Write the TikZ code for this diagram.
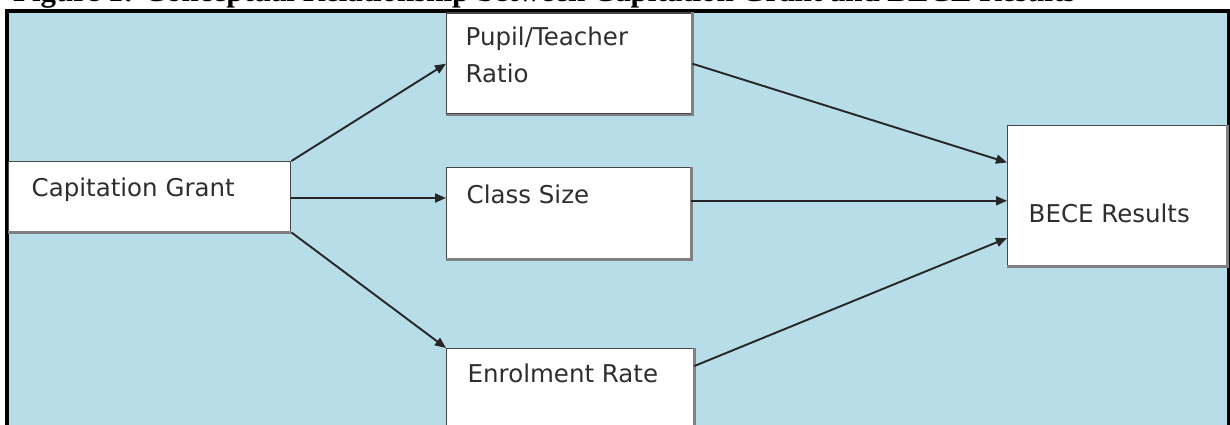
\documentclass[tikz,border=0pt]{standalone}
\usepackage{fontspec}
\usepackage{graphicx}
\setmainfont{Liberation Serif}
\newfontfamily\boxfont{DejaVu Sans}
\usetikzlibrary{arrows.meta,calc}
\definecolor{bgblue}{HTML}{B7DDE8}
\definecolor{txtgray}{HTML}{2E2E2E}
\tikzset{
  boxnode/.style={draw=black!72, line width=1.4pt, fill=white, rectangle, inner sep=0pt, anchor=north west},
  boxtext/.style={anchor=base west, inner sep=0pt, text=txtgray, font=\boxfont\fontsize{24.5}{30}\selectfont},
  conn/.style={draw=black!85, line width=1.9pt, -{Triangle[length=11pt,width=9pt]}},
  shadowedge/.style={draw=black!50, line width=2.2pt}
}
\begin{document}
\begin{tikzpicture}[x=1pt,y=-1pt]
\useasboundingbox (0,0) rectangle (1230,425);
% frame
\draw[line width=3.5pt, fill=bgblue] (7,11.2) rectangle (1228.8,450);
% title (cut off at top)
\node[anchor=base west, inner sep=0pt] (title) at (13,2)
  {\resizebox{1062pt}{!}{\bfseries Figure 1: Conceptual Relationship between Capitation Grant and BECE Results}};
% boxes
\node[boxnode, minimum width=282pt, minimum height=70pt] (cg) at (8,161) {};
\node[boxnode, minimum width=245pt, minimum height=101pt] (pt) at (446,12.5) {};
\node[boxnode, minimum width=244pt, minimum height=91pt] (cs) at (446,167) {};
\node[boxnode, minimum width=247pt, minimum height=100pt] (er) at (446,348) {};
\node[boxnode, minimum width=219pt, minimum height=140pt] (bece) at (1007,125) {};
% lighter lower/right edges
\draw[shadowedge] (cg.south west) -- (cg.south east);
\draw[shadowedge] (pt.south west) -- (pt.south east) -- (pt.north east);
\draw[shadowedge] (cs.south west) -- (cs.south east) -- (cs.north east);
\draw[shadowedge] (er.north east) -- ([yshift=-100pt]er.north east);
\draw[shadowedge] (bece.south west) -- (bece.south east) -- (bece.north east);
% texts
\node[boxtext] (cgt) at (31.5,196) {Capitation Grant};
\node[boxtext] (ptt1) at (465.5,46) {Pupil/Teacher};
\node[boxtext] (ptt2) at (465.5,83) {Ratio};
\node[boxtext] (cst) at (466.5,203) {Class Size};
\node[boxtext] (ert) at (467.5,382) {Enrolment Rate};
\node[boxtext] (becet) at (1028.5,222) {BECE Results};
% connector targets on BECE box
\coordinate (b1) at ($(bece.north west)!0.265!(bece.south west)$);
\coordinate (b2) at ($(bece.north west)!0.536!(bece.south west)$);
\coordinate (b3) at ($(bece.north west)!0.80!(bece.south west)$);
\coordinate (ere) at ([yshift=-18pt]er.north east);
% connectors
\draw[conn] (cg.north east) -- (pt.west);
\draw[conn] ([yshift=-37pt]cg.north east) -- ([yshift=-37pt]cg.north east -| cs.west);
\draw[conn] (cg.south east) -- (er.north west);
\draw[conn] (pt.east) -- (b1);
\draw[conn] (b2 -| cs.east) -- (b2);
\draw[conn] (ere) -- (b3);
\end{tikzpicture}
\end{document}
